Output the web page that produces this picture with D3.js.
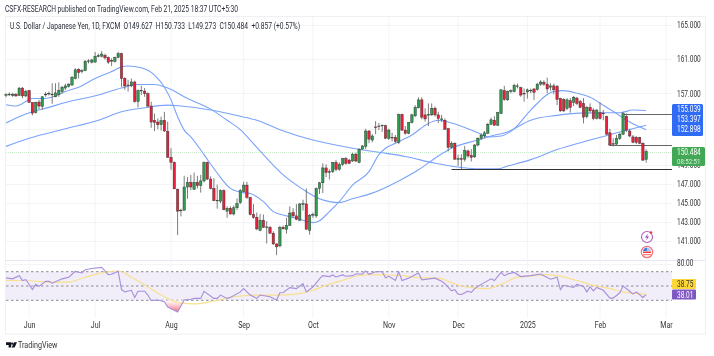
<!DOCTYPE html>
<html>
<head>
<meta charset="utf-8">
<script src="https://cdn.jsdelivr.net/npm/d3@7"></script>
<style>
html, body { margin: 0; padding: 0; background: #fff; }
svg { display: block; filter: blur(0.3px); }
text { font-family: Roboto, "Open Sans", sans-serif; white-space: pre; }
.tick line, .domain { display: none; }
</style>
</head>
<body>
<div id="chart"></div>
<script>
var opens = [156.8,156.85,156.75,156.9,156.75,157.6,156.7,157.3,155.95,154.8,
    156.0,155.5,156.85,156.95,156.9,156.6,156.85,157.2,157.6,157.8,
    157.95,158.7,159.75,159.55,159.6,160.7,160.6,160.6,161.3,161.3,
    161.4,161.15,160.8,160.7,161.15,161.6,158.7,157.95,157.85,158.3,
    156.05,157.3,157.25,156.95,155.55,153.95,153.75,153.45,153.95,152.7,
    149.85,149.3,146.4,144.15,144.2,146.65,147.15,146.4,147.15,146.8,
    147.3,149.3,147.5,146.5,145.2,145.15,146.25,144.1,144.4,143.8,
    144.45,145.0,146.15,146.85,145.55,143.75,143.45,142.1,143.15,142.4,
    142.4,141.8,140.7,140.5,142.4,142.2,142.6,143.95,143.6,143.15,
    144.8,144.85,142.1,143.7,143.6,146.5,147.1,148.7,148.25,148.3,
    149.3,148.55,149.1,149.7,149.55,149.45,150.2,149.3,150.75,151.05,
    152.75,151.75,153.2,153.25,153.35,153.35,151.95,152.05,152.05,151.5,
    154.6,152.85,152.5,153.7,154.45,155.35,156.25,154.55,154.55,154.55,
    155.3,154.55,154.05,153.95,153,150.95,151.4,149.65,149.7,149.65,
    150.55,150.05,149.9,151.2,151.95,152.2,152.5,153.5,153.95,153.4,
    154.7,157.3,156.25,157.25,157.2,157.8,157.65,157,157.15,157.3,
    157.5,157.45,158.05,158.25,158.05,157.7,157.85,157.8,156.4,156.3,
    155.3,156.15,155.95,156.45,156.05,155.85,154.35,155.4,155.1,154.15,
    154.8,154.75,154.35,152.55,151.3,151.3,151.95,152.4,154.4,152.75,
    152.1,152.05,152.05,151.4,149.627];
var highs = [157,157.1,157.05,157,157.7,157.7,157.4,157.4,156,156.05,
    156.25,156.7,157.15,157.2,158.15,158.15,158.25,157.85,158.1,158.15,
    159,159.9,159.9,159.8,160.85,160.95,161,161.8,161.6,161.9,
    161.6,161.25,161.05,161.25,161.8,161.7,158.85,158.55,158.7,158.45,
    157.45,157.85,157.6,157.1,156.05,154.7,154.15,154.35,154.9,153.8,
    150.85,149.4,146.5,144.35,147.85,147.7,147.95,148.2,147.85,147.95,
    149.4,149.4,147.8,147.6,146.9,146.4,146.4,144.6,144.6,144.7,
    145.45,146.45,147.2,147.2,145.6,144.85,143.95,143.8,143.75,143.05,
    142.55,142,140.75,142.55,142.6,143.4,144.6,144.4,144.85,144.95,
    145.3,146.5,143.8,143.95,146.6,147.2,149.2,149.1,148.55,149.35,
    149.55,149.3,149.8,149.9,149.7,150.35,150.35,150.85,151.2,153,
    152.85,152.4,153.85,153.65,153.45,153.45,153,152.55,152.3,154.7,
    154.7,153.3,153.75,154.7,155.65,156.55,156.55,155.3,155.85,155.85,
    155.5,154.9,154.55,154.15,153.1,151.6,151.5,150.15,150.2,151.1,
    150.7,150.75,151.3,152.05,152.5,152.75,153.65,154.25,154.4,154.9,
    157.45,157.85,157.3,157.45,158.1,158.1,157.75,157.55,157.55,157.55,
    157.55,158.2,158.5,158.5,158.8,158.15,158.1,157.95,156.5,156.45,
    156.45,156.45,156.7,156.6,156.25,156.45,155.55,155.85,155.3,155.2,
    155.95,155.1,154.45,153,151.95,152.3,152.55,154.9,154.7,153,
    152.3,152.2,152.1,151.5,150.733];
var lows = [156.55,156.7,156.6,156.6,156.7,156.45,156.55,155.9,154.5,154.7,
    155.2,155.1,156.6,156.75,155.8,156.55,156.6,157,157.4,157.65,
    157.85,158.6,158.7,159.3,159.55,160.45,160.45,160.55,161.15,161.15,
    160.9,160.4,160.15,160.55,161.05,157.7,157.4,157.2,157.7,155.95,
    155.4,156.8,156.6,155.4,153.1,152.75,152.95,152.8,152.65,149.8,
    148.5,146.45,141.6,143.55,144.15,145.4,146.3,146.35,146.5,146.05,
    147.15,147.4,146.4,145.15,144.35,144.95,144.2,143.4,143.75,143.65,
    144.2,144.85,146.1,145.4,143.65,143.3,142.1,142,142.35,140.75,
    141.75,140.6,139.55,140.35,142.2,141.75,142.55,143.4,143.15,143.05,
    144.15,142.2,141.65,143.4,143.4,145.9,146,147.7,147.45,148.15,
    148.35,148.4,148.9,149.05,149.1,149.35,149.35,149.2,150.7,150.75,
    151.4,151.5,152.4,152.85,152.65,151.85,151.75,151.6,151.4,151.3,
    152.75,152.35,152.4,153.6,154.3,155.3,154.05,153.8,153.3,154.45,
    154.35,153.65,153.75,152.85,150.5,150.85,149.6,148.9,148.55,149.4,
    149.8,149.4,149.8,151.05,151.75,151.95,152.4,153.4,153.3,153.3,
    154.65,156.15,156.15,157,157.1,157.55,156.6,156.05,156.4,157,
    156.25,157.3,157.85,157.85,157,157.3,156.9,155.65,154.9,154.9,
    155.1,154.8,155.55,155.65,155.3,153.6,154.15,154.8,153.95,154.05,
    154.05,153.95,152.3,151.1,151.05,151.1,151.75,152.3,152.65,152.05,
    151.4,151.3,151.3,149.45,149.273];
var closes = [156.85,156.9,156.9,156.7,157.6,156.7,157.2,155.95,154.75,155.95,
    155.55,156.6,156.9,157,156.85,157.05,157.3,157.7,157.85,158.05,
    158.85,159.7,159.4,159.6,160.7,160.75,160.85,161.3,161.35,161.55,
    161.1,160.6,160.75,161.15,161.6,158.7,157.85,157.9,158.3,156.05,
    157.3,157.35,156.95,155.55,153.75,153.7,153.45,153.9,152.75,149.85,
    149.3,146.45,144.1,144.2,146.65,147.15,146.65,147.15,146.8,147.3,
    149.3,147.5,146.5,145.2,145.25,146.25,144.25,144.4,143.8,144.45,
    144.9,146.25,146.85,145.55,143.75,143.45,142.25,143.15,142.4,142.45,
    141.8,140.7,140.4,142.4,142.25,142.6,143.9,143.6,143.25,144.85,
    144.9,142.2,143.65,143.75,146.5,147.1,148.7,148.2,148.3,149.3,
    148.55,149.1,149.7,149.2,149.2,150.2,149.45,150.75,151.1,152.75,
    151.85,152.2,153.15,153.3,153.4,151.95,152.85,152,151.6,154.6,
    152.85,152.5,153.7,154.55,155.4,156.25,154.3,154.1,154.6,155.3,
    154.55,154.15,154.1,152.95,150.95,151.4,149.65,149.7,149.65,150.6,
    150,149.85,151.2,151.95,152.3,152.55,153.5,154,153.4,154.8,
    157.4,156.3,157.2,157.3,157.9,157.85,156.8,156.95,157.4,157.35,
    157.1,158.05,158.3,158.05,157.5,157.85,157.4,156.3,155,155,
    156.25,155.4,156.55,155.85,155.4,154.3,155.4,155,154.15,155.1,
    154.15,154.7,152.4,151.2,151.35,151.95,152.4,154.7,152.85,152.2,
    151.5,151.5,151.4,149.55,150.484];

// moving averages at a few candle indexes
var maFastIdx = [0,3,5,8,11,15,18,22,27,32,35,37,41,45,48,50,52,54,56,60,64,68,71,74,78,81,85,88,93,95,98,101,105,110,113,115,118,123,128,131,135,143,146,150,154,159,166,169,173,177,181,185,189,194];
var maFastVal = [155.7,155.55,155.85,156.4,156.4,156.7,157.2,157.7,158.7,159.5,160.05,160.15,159.95,159.1,157.7,156.25,154.35,152.85,152.1,150.15,148.15,146.5,146.1,145.95,145.1,144.05,143.6,143.35,142.9,143.1,144.05,145.1,146.85,148.3,150.15,150.85,151.4,152.3,153.6,153.95,153.65,152.55,152.1,152.2,153,155.1,157.2,157.3,157,156.55,155.65,154.7,153.75,152.898];
var maMidIdx = [0,4,8,13,18,28,35,40,45,49,55,62,67,71,74,78,84,90,95,98,101,105,111,119,125,131,135,143,147,152,154,159,167,174,182,186,190,194];
var maMidVal = [153.65,154.35,154.9,155.4,155.95,156.8,157.6,158,158,157.6,156.4,155.2,153.95,152.9,151.75,150.15,147.95,146.4,145.4,145.1,145,145.4,146,147.3,148.5,150,150.85,151.75,152.2,152.65,153,153.95,154.5,154.75,154.8,154.8,155.1,155.039];
var maSlowIdx = [0,7,18,28,35,41,49,53,62,71,76,83,93,105,113,121,130,138,143,149,152,159,167,177,186,194];
var maSlowVal = [151.05,151.95,153,153.95,154.9,155.3,155.65,155.55,155.1,154.4,153.95,152.9,151.75,150.85,150.4,149.95,149.2,148.75,148.6,148.6,148.9,149.6,150.7,151.75,152.65,153.397];

var rsiIdx = [0,2,4,5,6,8,9,10,12,13,14,17,19,21,23,24,26,29,31,32,34,35,36,38,39,40,42,43,44,46,48,49,52,54,56,57,59,60,63,64,65,67,68,71,72,74,76,77,80,82,83,84,86,88,90,91,93,95,96,98,99,100,102,103,105,106,108,109,110,112,114,115,116,118,119,120,122,125,126,130,132,133,135,136,137,138,140,141,142,144,147,148,150,151,152,154,156,159,162,165,167,168,169,172,173,175,176,177,178,179,181,183,184,186,187,189,190,191,193,194];
var rsiVal = [61.4,60,64.5,57.7,59,45,52.3,49.5,56.4,56.4,54,60,62.3,70.5,68.2,72.7,74.5,76,66,66.4,70.5,45,41.8,44,34,42.7,42.7,37.3,29.5,30.5,28,20.5,13.6,30.5,31.4,32.7,32.7,42.7,32.7,32.7,37.3,32.7,34,41.8,46.4,37.3,32.7,37.3,35,30.5,40.5,41,47.7,46.4,53.2,41.8,48.6,60,64.5,63.2,65.5,62.7,65.5,63.6,64.5,66.8,66.8,71,66.4,70,70,61.4,63.6,57.7,70,57.7,61,68.2,58.6,61,56.8,53.2,43.2,45,38.6,38.2,42.7,41,46.4,52.3,60,57.7,69,64.5,66.8,69,63.2,64.5,66.8,59.5,62.3,45,51,48,52.3,49.5,41.8,48.6,43.2,48,44,33,33,40.5,50,42.7,38.6,41.8,34,38.01];
var rsiMaIdx = [0,6,13,19,24,30,34,38,43,48,53,57,63,69,75,82,87,93,97,101,106,110,115,120,125,131,136,141,146,150,155,160,163,167,173,178,183,187,194];
var rsiMaVal = [57.7,57.7,55.5,55.5,62.3,69,71,62.3,48.6,35,26,25,29,35,37.3,37.3,38.2,44,51,56.4,63.6,65.9,65.5,64.5,61.8,60.9,53,47.7,46.4,52.3,62.3,64.5,65.9,64.5,57.7,50.9,46.4,41.8,38.75];

var priceTicks = [165,161,157,153,149,147,145,143,141];
var monthIdx = [7,27,50,72,93,116,137,158,180,200];
var monthLabels = ["Jun","Jul","Aug","Sep","Oct","Nov","Dec","2025","Feb","Mar"];
var rsiLevels = [70,50,30];
var levels = [{ from: 135, price: 148.6, color: "#333" }, { from: 183, price: 151.24, color: "#666" }, { from: 187, price: 154.66, color: "#666" }];
var maTags = [155.039, 153.397, 152.898];
var lastPrice = 150.484;
var countdown = "08:52:51";

var width = 714, height = 356;
var plotRight = 672;

// the reference text is narrower than the installed fonts, so squeeze it
function squeeze(sel, k) {
    sel.attr("textLength", function() { return this.getComputedTextLength() * k; })
        .attr("lengthAdjust", "spacingAndGlyphs");
    return sel;
}

var svg = d3.select("#chart").append("svg")
    .attr("width", width)
    .attr("height", height)
    .attr("viewBox", "0 0 " + width + " " + height);

var x = d3.scaleLinear().domain([0, 200]).range([6, 666]);
var y = d3.scaleLog().domain([165, 141]).range([25, 241]);
var yRsi = d3.scaleLinear().domain([30, 70]).range([300.3, 271.7]);

// frame
svg.append("rect").attr("x", 5.5).attr("y", 16.5).attr("width", 700).attr("height", 317.5)
    .attr("fill", "none").attr("stroke", "#eef0f3");
svg.append("line").attr("x1", 5.5).attr("x2", 705.5).attr("y1", 260.5).attr("y2", 260.5)
    .attr("stroke", "#e6e6f2");

// grid
svg.selectAll(".gx").data(monthIdx).enter().append("line")
    .attr("x1", function(d) { return x(d); })
    .attr("x2", function(d) { return x(d); })
    .attr("y1", 17).attr("y2", 318)
    .attr("stroke", "#f3f4f6");
svg.selectAll(".gy").data(priceTicks).enter().append("line")
    .attr("x1", 6).attr("x2", plotRight)
    .attr("y1", function(d) { return Math.round(y(d)) + 0.5; })
    .attr("y2", function(d) { return Math.round(y(d)) + 0.5; })
    .attr("stroke", "#f3f4f6");
svg.append("line").attr("x1", 6).attr("x2", plotRight).attr("y1", 264.5).attr("y2", 264.5).attr("stroke", "#f3f4f6");

// last price line
svg.append("line").attr("x1", 6).attr("x2", plotRight)
    .attr("y1", Math.round(y(lastPrice)) + 0.5).attr("y2", Math.round(y(lastPrice)) + 0.5)
    .attr("stroke", "#c6ecca").attr("stroke-width", 1).attr("stroke-dasharray", "1,1");

// moving averages
var maLine = d3.line()
    .x(function(d) { return x(d[0]); })
    .y(function(d) { return y(d[1]); })
    .curve(d3.curveMonotoneX);
[[maFastIdx, maFastVal], [maMidIdx, maMidVal], [maSlowIdx, maSlowVal]].forEach(function(s) {
    svg.append("path")
        .datum(d3.zip(s[0], s[1]))
        .attr("fill", "none")
        .attr("stroke", "#7aa3fa")
        .attr("stroke-width", 1.1)
        .attr("d", maLine);
});

// horizontal levels
svg.selectAll(".level").data(levels).enter().append("line")
    .attr("x1", function(d) { return x(d.from); })
    .attr("x2", plotRight)
    .attr("y1", function(d) { return Math.round(y(d.price)) + 0.5; })
    .attr("y2", function(d) { return Math.round(y(d.price)) + 0.5; })
    .attr("stroke", function(d) { return d.color; });

// candles
var candles = d3.range(opens.length);
svg.selectAll(".wick").data(candles).enter().append("line")
    .attr("x1", function(i) { return x(i); })
    .attr("x2", function(i) { return x(i); })
    .attr("y1", function(i) { return y(highs[i]); })
    .attr("y2", function(i) { return y(lows[i]); })
    .attr("stroke", "#6e6e6e")
    .attr("stroke-width", 0.9);
svg.selectAll(".body").data(candles).enter().append("rect")
    .attr("x", function(i) { return x(i) - 1.2; })
    .attr("width", 2.4)
    .attr("y", function(i) { return y(Math.max(opens[i], closes[i])); })
    .attr("height", function(i) { return Math.max(0.7, Math.abs(y(opens[i]) - y(closes[i]))); })
    .attr("fill", function(i) { return closes[i] >= opens[i] ? "#2f9e4f" : "#e8203a"; })
    .attr("stroke", "#333")
    .attr("stroke-width", 0.45);

// RSI pane
svg.append("rect").attr("x", 6).attr("width", plotRight - 6)
    .attr("y", yRsi(70)).attr("height", yRsi(30) - yRsi(70))
    .attr("fill", "#f1edf9");
svg.selectAll(".rsiLevel").data(rsiLevels).enter().append("line")
    .attr("x1", 6).attr("x2", plotRight)
    .attr("y1", function(d) { return yRsi(d); })
    .attr("y2", function(d) { return yRsi(d); })
    .attr("stroke", "#8b8b96")
    .attr("stroke-dasharray", "2.5,2.5");

var defs = svg.append("defs");
var oversold = defs.append("linearGradient").attr("id", "oversold")
    .attr("gradientUnits", "userSpaceOnUse")
    .attr("x1", 0).attr("x2", 0).attr("y1", yRsi(30)).attr("y2", yRsi(13));
oversold.append("stop").attr("offset", "0%").attr("stop-color", "#fff").attr("stop-opacity", 0.6);
oversold.append("stop").attr("offset", "100%").attr("stop-color", "#f7525f").attr("stop-opacity", 0.9);

var rsiPts = d3.zip(rsiIdx, rsiVal);
svg.append("path")
    .datum(rsiPts.filter(function(d) { return d[0] >= 44 && d[0] <= 54; }))
    .attr("fill", "url(#oversold)")
    .attr("d", d3.area()
        .x(function(d) { return x(d[0]); })
        .y0(yRsi(30))
        .y1(function(d) { return yRsi(Math.min(d[1], 30)); }));
svg.append("path")
    .datum(d3.zip(rsiMaIdx, rsiMaVal))
    .attr("fill", "none").attr("stroke", "#f8e08e").attr("stroke-width", 1.2)
    .attr("d", d3.line()
        .x(function(d) { return x(d[0]); })
        .y(function(d) { return yRsi(d[1]); })
        .curve(d3.curveMonotoneX));
svg.append("path")
    .datum(rsiPts)
    .attr("fill", "none").attr("stroke", "#a78fd9").attr("stroke-width", 1.1)
    .attr("d", d3.line()
        .x(function(d) { return x(d[0]); })
        .y(function(d) { return yRsi(d[1]); }));

// axes
var axisRight = svg.append("g")
    .attr("transform", "translate(677,0)")
    .call(d3.axisRight(y).tickValues(priceTicks).tickSize(0).tickPadding(0).tickFormat(d3.format(".3f")));
squeeze(axisRight.selectAll("text").attr("fill", "#333").style("font-size", "8.6px").style("font-family", "Roboto"), 0.76);

var axisX = svg.append("g")
    .attr("transform", "translate(0,322)")
    .call(d3.axisBottom(x).tickValues(monthIdx).tickSize(0).tickPadding(0)
        .tickFormat(function(d, i) { return monthLabels[i]; }));
squeeze(axisX.selectAll("text").attr("fill", "#333").style("font-size", "8.6px").style("font-family", "Roboto"), 0.82);

squeeze(svg.append("text").attr("x", 677).attr("y", 266).attr("fill", "#333")
    .style("font-size", "8.6px").text("80.00"), 0.76);

// header text
svg.append("text").attr("x", 5).attr("y", 12).attr("fill", "#2a2e39")
    .style("font-size", "8.5px")
    .attr("textLength", 233).attr("lengthAdjust", "spacingAndGlyphs")
    .text("CSFX-RESEARCH published on TradingView.com, Feb 21, 2025 18:37 UTC+5:30");
svg.append("text").attr("x", 10).attr("y", 29).attr("fill", "#2a2e39")
    .style("font-size", "8.5px")
    .attr("textLength", 290).attr("lengthAdjust", "spacingAndGlyphs")
    .text("U.S. Dollar / Japanese Yen, 1D, FXCM  O149.627  H150.733  L149.273  C150.484  +0.857 (+0.57%)");

// price tags
svg.append("rect").attr("x", 672).attr("y", 104).attr("width", 31).attr("height", 32).attr("rx", 1.5).attr("fill", "#2f6bf5");
squeeze(svg.selectAll(".maTag").data(maTags).enter().append("text")
    .attr("x", 677)
    .attr("y", function(d, i) { return 112.4 + i * 10; })
    .attr("fill", "#fff")
    .style("font-size", "8.6px")
    .text(function(d) { return d3.format(".3f")(d); }), 0.76);
svg.append("rect").attr("x", 672).attr("y", 147).attr("width", 33).attr("height", 19).attr("rx", 1.5).attr("fill", "#43a856");
squeeze(svg.append("text").attr("x", 677).attr("y", 155.3).attr("fill", "#fff").style("font-size", "8.6px").text(d3.format(".3f")(lastPrice)), 0.76);
squeeze(svg.append("text").attr("x", 677).attr("y", 163.8).attr("fill", "#d6f0da").style("font-size", "8px").text(countdown), 0.76);

svg.append("rect").attr("x", 672).attr("y", 279).attr("width", 24).attr("height", 10).attr("rx", 1).attr("fill", "#fdd835");
squeeze(svg.append("text").attr("x", 677).attr("y", 287).attr("fill", "#333").style("font-size", "8.6px").text(rsiMaVal[rsiMaVal.length - 1].toFixed(2)), 0.76);
svg.append("rect").attr("x", 672).attr("y", 289.5).attr("width", 24).attr("height", 10).attr("rx", 1).attr("fill", "#7e57c2");
squeeze(svg.append("text").attr("x", 677).attr("y", 297.5).attr("fill", "#fff").style("font-size", "8.6px").text(rsiVal[rsiVal.length - 1].toFixed(2)), 0.76);

// event icons
var bolt = svg.append("g").attr("transform", "translate(647,237)");
bolt.append("circle").attr("r", 5.5).attr("fill", "#fff").attr("stroke", "#b05cc8").attr("stroke-width", 1.1);
bolt.append("path").attr("d", "M1,-3.5L-2,0.5H0L-1,3.5L2,-0.5H0Z").attr("fill", "#9c3fc0");
bolt.append("circle").attr("cx", 4).attr("cy", -4.5).attr("r", 1.3).attr("fill", "#f23645");

var flag = svg.append("g").attr("transform", "translate(647,252)");
flag.append("circle").attr("r", 5.7).attr("fill", "#fff").attr("stroke", "#f7727c").attr("stroke-width", 1.2);
flag.append("rect").attr("x", -4).attr("y", -0.5).attr("width", 8).attr("height", 1.5).attr("fill", "#f23645");
flag.append("rect").attr("x", -4).attr("y", 2).attr("width", 8).attr("height", 1.2).attr("fill", "#f77");
flag.append("path").attr("d", "M0,-4.5A4.5,4.5 0 0 0 -4,-1H0Z").attr("fill", "#3f7fe0");
flag.append("path").attr("d", "M0,-4.5A4.5,4.5 0 0 1 4,-1H0Z").attr("fill", "#a9c8f5");

// logo
var logo = svg.append("g").attr("fill", "#131722");
logo.append("path").attr("d", "M6,342.3H11.2V347.6H8.6V344.9H6Z");
logo.append("circle").attr("cx", 12.2).attr("cy", 343.6).attr("r", 1.2);
logo.append("path").attr("d", "M14,342.3H17L14.6,347.6H11.7Z");
svg.append("text").attr("x", 18).attr("y", 348).attr("fill", "#333").style("font-size", "9px")
    .attr("textLength", 39.5).attr("lengthAdjust", "spacingAndGlyphs").text("TradingView");
</script>
</body>
</html>
